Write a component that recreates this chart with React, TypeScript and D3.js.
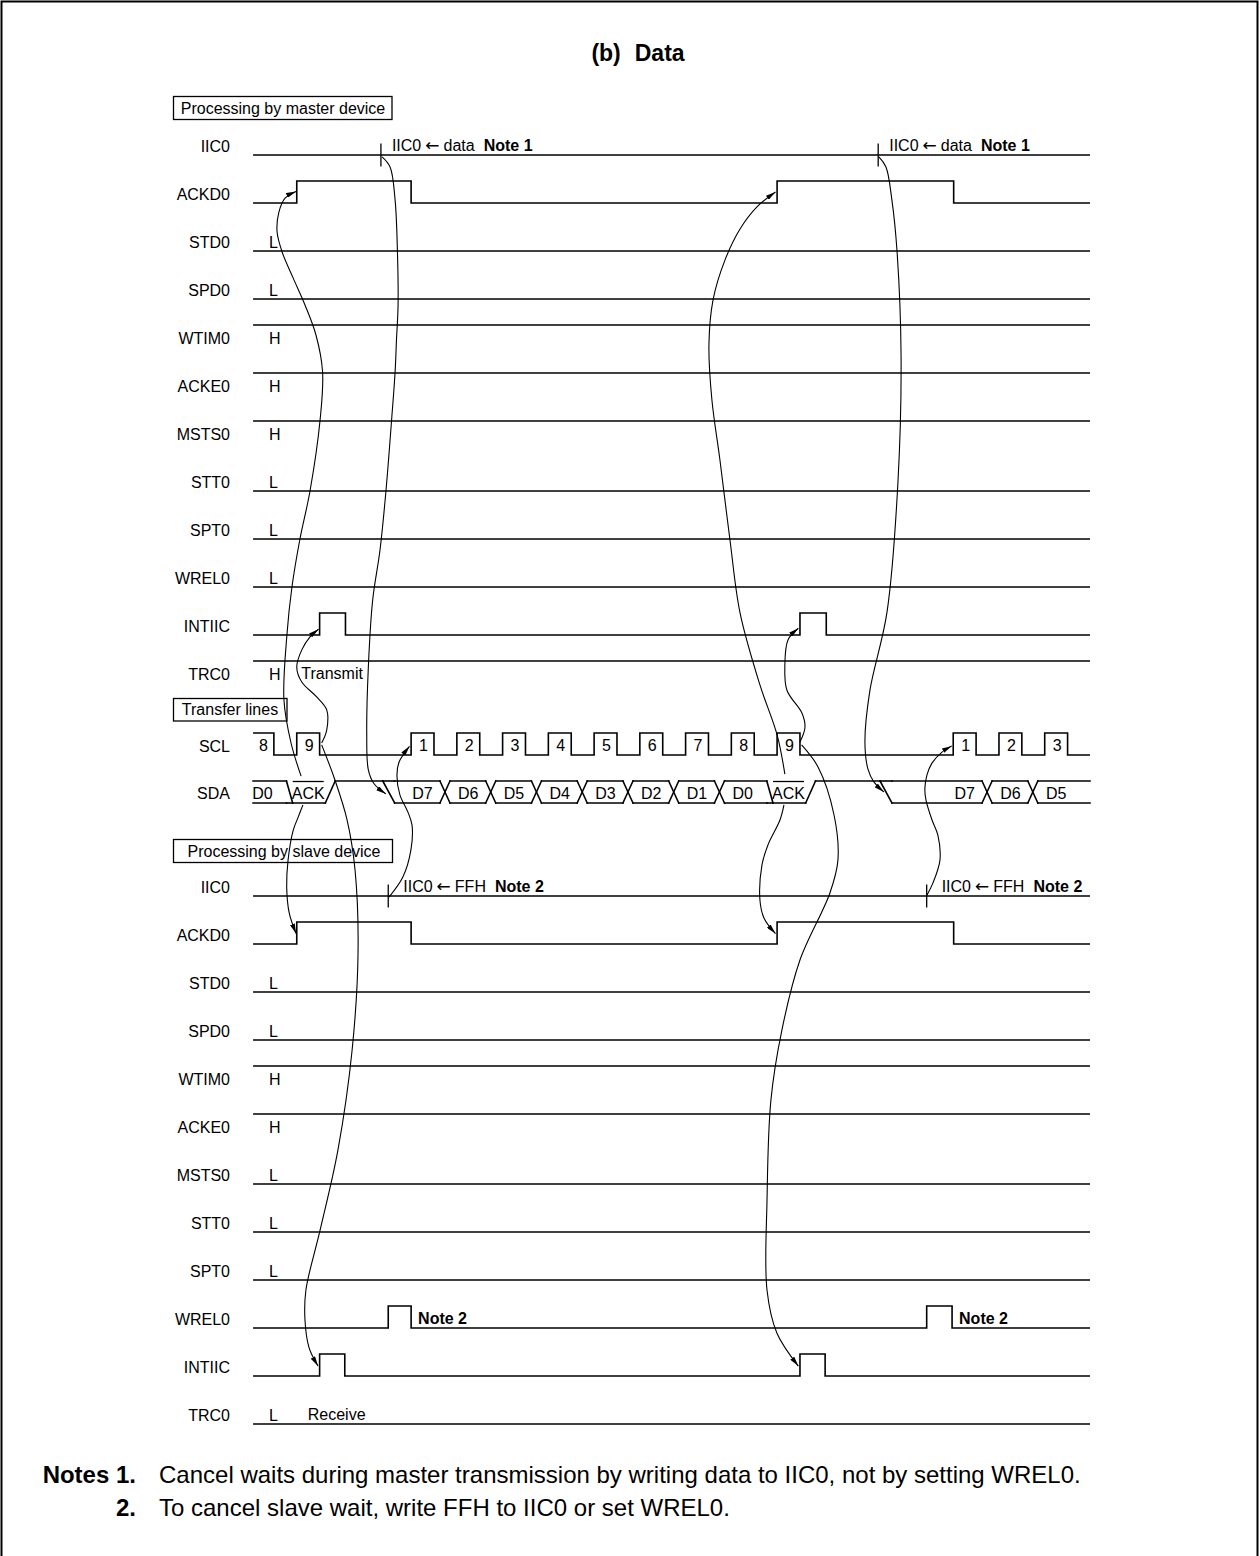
import React from "react";
import * as d3 from "d3";

const FONT = "'Liberation Sans', Arial, Helvetica, sans-serif";
const ARROW_FONT = "'DejaVu Sans', sans-serif";

// ---- time axis (unit = half an SCL clock period) ----
const T_START = 0.09;
const T_END = 36.68;

// ---- signal rows ----
const signalNames = ["IIC0", "ACKD0", "STD0", "SPD0", "WTIM0", "ACKE0", "MSTS0", "STT0", "SPT0", "WREL0", "INTIIC", "TRC0"];
const masterLevelValues = [0, 0, 0, 0, 1, 1, 1, 0, 0, 0, 0, 1];
const masterLevelLabels = ["", "", "L", "L", "H", "H", "H", "L", "L", "L", "", "H"];
const slaveLevelValues = [0, 0, 0, 0, 1, 1, 0, 0, 0, 0, 0, 0];
const slaveLevelLabels = ["", "", "L", "L", "H", "H", "L", "L", "L", "", "", "L"];

// row index positions (row pitch units)
const masterRowStart = 0;
const sclRow = 12.5;
const sdaRow = 13.5;
const slaveRowStart = 15.4375;

// pulses [rise, fall]
const masterAckd0Pulses = [[2, 7], [23, 30.72]];
const masterIntiicPulses = [[3, 4.13], [24, 25.15]];
const slaveAckd0Pulses = [[2, 7], [23, 30.72]];
const slaveWrel0Pulses = [[6, 7], [29.54, 30.65]];
const slaveIntiicPulses = [[3, 4.1], [24, 25.1]];

// IIC0 write marks
const masterIicTicks = [5.68, 27.42];
const slaveIicTicks = [6.0, 29.54];

// SCL clock pulses
const sclRises = [0, 2, 7, 9, 11, 13, 15, 17, 19, 21, 23, 30.7, 32.7, 34.7];
const sclLabels = ["8", "9", "1", "2", "3", "4", "5", "6", "7", "8", "9", "1", "2", "3"];

// SDA transitions [start, end, state after]
const sdaTransitions: [number, number, string][] = [
  [1.55, 1.82, "low"],
  [3.25, 3.68, "high"],
  [5.76, 6.28, "bus"],
  [8.26, 8.7, "bus"],
  [10.26, 10.7, "bus"],
  [12.26, 12.7, "bus"],
  [14.26, 14.7, "bus"],
  [16.26, 16.7, "bus"],
  [18.26, 18.7, "bus"],
  [20.26, 20.7, "bus"],
  [22.55, 22.82, "low"],
  [24.25, 24.68, "high"],
  [27.5, 28.02, "bus"],
  [31.96, 32.4, "bus"],
  [33.96, 34.4, "bus"],
];
const sdaLabels = ["D0", "ACK", "D7", "D6", "D5", "D4", "D3", "D2", "D1", "D0", "ACK", "D7", "D6", "D5"];
const sdaLabelTimes = [0.5, 2.5, 7.5, 9.5, 11.5, 13.5, 15.5, 17.5, 19.5, 21.5, 23.5, 31.2, 33.2, 35.2];

// ---- cause/effect arrows: [time, row] ----
const arrowA = [[2.19, 12.94], [1.75, 12.25], [1.44, 11.35], [1.57, 10.0], [1.79, 9.0], [2.14, 8.0], [2.58, 7.0], [3.02, 5.52], [3.13, 4.52], [2.84, 3.75], [2.36, 3.125], [1.84, 2.56], [1.36, 2.02], [1.14, 1.6], [1.22, 1.19], [1.49, 0.9], [1.97, 0.76]];
const arrowB = [[5.73, 0.04], [6.08, 0.25], [6.3, 0.94], [6.4, 1.98], [6.43, 3.125], [6.36, 3.85], [6.3, 4.52], [6.15, 5.5], [5.9, 7.0], [5.64, 8.23], [5.32, 9.27], [5.13, 10.67], [5.06, 12.04], [5.13, 12.81], [5.38, 13.1], [5.9, 13.31]];
const arrowC = [[3.09, 12.25], [3.31, 11.98], [3.31, 11.56], [2.87, 11.29], [2.22, 10.98], [2.0, 10.67], [2.22, 10.31], [2.58, 10.04], [2.95, 9.88]];
const arrowD = [[3.09, 12.29], [3.67, 13.02], [4.2, 13.85], [4.55, 14.9], [4.68, 16.625], [4.42, 18.65], [3.8, 20.73], [3.02, 22.4], [2.4, 23.65], [2.36, 24.27], [2.54, 24.85], [2.93, 25.23]];
const arrowE = [[2.27, 13.54], [2.05, 13.81], [1.85, 14.06], [1.62, 14.69], [1.56, 15.25], [1.67, 15.79], [1.97, 16.22]];
const arrowF = [[6.03, 15.46], [6.64, 15.04], [6.99, 14.48], [7.04, 13.96], [6.86, 13.69], [6.51, 13.33], [6.38, 12.92], [6.47, 12.65], [6.93, 12.32]];
const arrowG = [[23.34, 12.9], [23.0, 12.08], [22.25, 11.04], [21.38, 9.54], [20.94, 8.02], [20.5, 6.35], [20.15, 5.1], [20.02, 3.96], [20.2, 3.02], [20.72, 2.19], [21.38, 1.54], [22.12, 1.08], [22.93, 0.77]];
const arrowH = [[27.45, 0.04], [27.76, 0.25], [28.02, 0.94], [28.24, 1.98], [28.42, 4.17], [28.28, 6.85], [27.8, 9.54], [27.06, 11.15], [26.84, 12.23], [26.97, 12.79], [27.23, 13.06], [27.67, 13.27]];
const arrowI = [[24.0, 12.23], [24.22, 11.92], [24.09, 11.63], [23.43, 11.15], [23.34, 10.625], [23.48, 10.1], [23.93, 9.86]];
const arrowJ = [[24.07, 12.29], [24.79, 12.75], [25.49, 13.75], [25.66, 14.69], [25.31, 15.375], [24.0, 16.77], [23.21, 18.23], [22.73, 19.69], [22.56, 21.77], [22.56, 23.65], [22.99, 24.54], [23.93, 25.23]];
const arrowK = [[23.3, 13.54], [23.13, 13.85], [22.6, 14.375], [22.34, 14.79], [22.25, 15.52], [22.43, 15.9], [22.93, 16.22]];
const arrowL = [[29.55, 15.42], [29.81, 15.17], [30.12, 14.69], [30.03, 14.17], [29.77, 13.85], [29.51, 13.44], [29.46, 13.21], [29.55, 12.92], [29.77, 12.67], [30.21, 12.44], [30.64, 12.31]];
const arrows = [arrowA, arrowB, arrowC, arrowD, arrowE, arrowF, arrowG, arrowH, arrowI, arrowJ, arrowK, arrowL];

const noteNumbers = ["Notes 1.", "2."];
const noteLines = [
  "Cancel waits during master transmission by writing data to IIC0, not by setting WREL0.",
  "To cancel slave wait, write FFH to IIC0 or set WREL0.",
];

export default function App() {
  const W = 1260;
  const H = 1556;
  const x = d3.scaleLinear().domain([0, 36.68]).range([251, 1090]);
  const y = d3.scaleLinear().domain([0, 1]).range([155, 203]);
  const HI = 22;
  const SW = 1.6;
  const fs = 16;

  const wave = (row: number, level: number, pulses: number[][]) => {
    const base = y(row) - (level ? HI : 0);
    const other = level ? y(row) : y(row) - HI;
    const p = d3.path();
    p.moveTo(x(T_START), base);
    pulses.forEach(([r, f]) => {
      p.lineTo(x(r), base);
      p.lineTo(x(r), other);
      p.lineTo(x(f), other);
      p.lineTo(x(f), base);
    });
    p.lineTo(x(T_END), base);
    return p.toString();
  };

  const rowsFor = (start: number, levels: number[], labels: string[], pulsesByName: Record<string, number[][]>, ticks: number[], tickWord: string, tickDx: number, section: string) => {
    const out: any[] = [];
    signalNames.forEach((name, i) => {
      const r = start + i;
      const yl = y(r);
      out.push(
        <text key={section + "n" + i} x={230} y={yl - 3.5} textAnchor="end" fontSize={fs} fontFamily={FONT}>{name}</text>
      );
      if (labels[i]) {
        out.push(
          <text key={section + "l" + i} x={269} y={yl - 3.5} fontSize={fs} fontFamily={FONT}>{labels[i]}</text>
        );
      }
      out.push(
        <path key={section + "w" + i} d={wave(r, levels[i], pulsesByName[name] || [])} fill="none" stroke="#000" strokeWidth={SW} />
      );
      if (name === "IIC0") {
        ticks.forEach((t, k) => {
          out.push(<line key={section + "t" + k} x1={x(t)} x2={x(t)} y1={yl - 11.5} y2={yl + 11.5} stroke="#000" strokeWidth={1.3} />);
          out.push(
            <text key={section + "tt" + k} x={x(t) + tickDx} y={yl - 4} fontSize={fs} fontFamily={FONT}>
              IIC0
              <tspan dx={4} fontFamily={ARROW_FONT} fontSize={17}>{"\u2190"}</tspan>
              <tspan dx={4}>{tickWord}</tspan>
              <tspan fontWeight="bold" dx={9}>{section === "m" ? "Note 1" : "Note 2"}</tspan>
            </text>
          );
        });
      }
      if (section === "s" && name === "WREL0") {
        (pulsesByName[name] || []).forEach(([, f], k) => {
          out.push(<text key={section + "wn" + k} x={x(f) + 7} y={yl - 4} fontSize={fs} fontWeight="bold" fontFamily={FONT}>Note 2</text>);
        });
      }
    });
    return out;
  };

  // SCL
  const sclLow = y(sclRow);
  const sclHigh = sclLow - HI;
  const sclPath = (() => {
    const p = d3.path();
    const first = sclRises[0] <= T_START;
    p.moveTo(x(T_START), first ? sclHigh : sclLow);
    sclRises.forEach((r, k) => {
      if (!(k === 0 && first)) {
        p.lineTo(x(r), sclLow);
        p.lineTo(x(r), sclHigh);
      }
      p.lineTo(x(r + 1), sclHigh);
      p.lineTo(x(r + 1), sclLow);
    });
    p.lineTo(x(T_END), sclLow);
    return p.toString();
  })();

  // SDA
  const sdaB = y(sdaRow);
  const sdaT = sdaB - HI;
  const lv = (s: string) => (s === "bus" ? [sdaT, sdaB] : s === "low" ? [sdaB] : [sdaT]);
  const sdaSegs: number[][] = [];
  let state = "bus";
  let cur = T_START;
  sdaTransitions.forEach(([a, b, ns]) => {
    lv(state).forEach((yy) => sdaSegs.push([x(cur), yy, x(a), yy]));
    if (state === "bus" && ns === "bus") {
      sdaSegs.push([x(a), sdaT, x(b), sdaB]);
      sdaSegs.push([x(a), sdaB, x(b), sdaT]);
    } else {
      lv(state).forEach((y1) => lv(ns).forEach((y2) => sdaSegs.push([x(a), y1, x(b), y2])));
    }
    cur = b;
    state = ns;
  });
  lv(state).forEach((yy) => sdaSegs.push([x(cur), yy, x(T_END), yy]));

  const curve = d3
    .line<number[]>()
    .x((d) => x(d[0]))
    .y((d) => y(d[1]))
    .curve(d3.curveCatmullRom.alpha(0.5));

  return (
    <svg width={W} height={H} viewBox={`0 0 ${W} ${H}`} style={{ position: "absolute", left: 0, top: 0, background: "#fff" }}>
      <defs>
        <marker id="ah" viewBox="0 0 10 5" refX={10} refY={2.5} markerWidth={10} markerHeight={5} markerUnits="userSpaceOnUse" orient="auto">
          <path d="M0,0 L10,2.5 L0,5 z" fill="#000" />
        </marker>
      </defs>
      <rect x={0} y={0} width={W} height={H} fill="#fff" />
      <rect x={1.5} y={1.5} width={1256} height={1600} fill="none" stroke="#000" strokeWidth={2} />

      <text x={638} y={61} textAnchor="middle" fontSize={23} fontWeight="bold" fontFamily={FONT}>
        (b)<tspan dx={14}>Data</tspan>
      </text>

      {/* section boxes */}
      <rect x={173.5} y={96.5} width={218.5} height={23} fill="none" stroke="#000" strokeWidth={1.3} />
      <text x={283} y={113.5} textAnchor="middle" fontSize={fs} fontFamily={FONT}>Processing by master device</text>
      <rect x={173.5} y={698.5} width={113.5} height={22.5} fill="none" stroke="#000" strokeWidth={1.3} />
      <text x={230} y={715} textAnchor="middle" fontSize={fs} fontFamily={FONT}>Transfer lines</text>
      <rect x={173.5} y={839.5} width={219} height={23} fill="none" stroke="#000" strokeWidth={1.3} />
      <text x={284} y={856.5} textAnchor="middle" fontSize={fs} fontFamily={FONT}>Processing by slave device</text>

      {rowsFor(masterRowStart, masterLevelValues, masterLevelLabels, { ACKD0: masterAckd0Pulses, INTIIC: masterIntiicPulses }, masterIicTicks, "data", 11, "m")}
      {rowsFor(slaveRowStart, slaveLevelValues, slaveLevelLabels, { ACKD0: slaveAckd0Pulses, WREL0: slaveWrel0Pulses, INTIIC: slaveIntiicPulses }, slaveIicTicks, "FFH", 15, "s")}

      <text x={x(2.2)} y={y(11) - 4} fontSize={fs} fontFamily={FONT}>Transmit</text>
      <text x={x(2.48)} y={y(slaveRowStart + 11) - 4} fontSize={fs} fontFamily={FONT}>Receive</text>

      {/* transfer lines */}
      <text x={230} y={sclLow - 3.5} textAnchor="end" fontSize={fs} fontFamily={FONT}>SCL</text>
      <text x={230} y={sdaB - 4} textAnchor="end" fontSize={fs} fontFamily={FONT}>SDA</text>
      <path d={sclPath} fill="none" stroke="#000" strokeWidth={SW} />
      {sclRises.map((r, k) => (
        <text key={"sl" + k} x={x(r + 0.5) + 1} y={sclLow - 4} textAnchor="middle" fontSize={fs} fontFamily={FONT}>{sclLabels[k]}</text>
      ))}
      {sdaSegs.map((s, k) => (
        <line key={"sd" + k} x1={s[0]} y1={s[1]} x2={s[2]} y2={s[3]} stroke="#000" strokeWidth={SW} strokeLinecap="square" />
      ))}
      {sdaLabels.map((lab, k) => (
        <g key={"sdl" + k}>
          <text x={x(sdaLabelTimes[k])} y={sdaB - 4} textAnchor="middle" fontSize={fs} fontFamily={FONT}>{lab}</text>
          {lab === "ACK" && (
            <line x1={x(sdaLabelTimes[k]) - 15.5} x2={x(sdaLabelTimes[k]) + 15.5} y1={sdaT + 0.5} y2={sdaT + 0.5} stroke="#000" strokeWidth={1.3} />
          )}
        </g>
      ))}

      {/* arrows */}
      {arrows.map((a, k) => (
        <path key={"ar" + k} d={curve(a as any) || ""} fill="none" stroke="#000" strokeWidth={1.1} markerEnd="url(#ah)" />
      ))}

      {/* notes */}
      <text x={136} y={1483} textAnchor="end" fontSize={24} fontWeight="bold" fontFamily={FONT}>{noteNumbers[0]}</text>
      <text x={159} y={1483} fontSize={24} fontFamily={FONT}>{noteLines[0]}</text>
      <text x={136} y={1516} textAnchor="end" fontSize={24} fontWeight="bold" fontFamily={FONT}>{noteNumbers[1]}</text>
      <text x={159} y={1516} fontSize={24} fontFamily={FONT}>{noteLines[1]}</text>
    </svg>
  );
}
